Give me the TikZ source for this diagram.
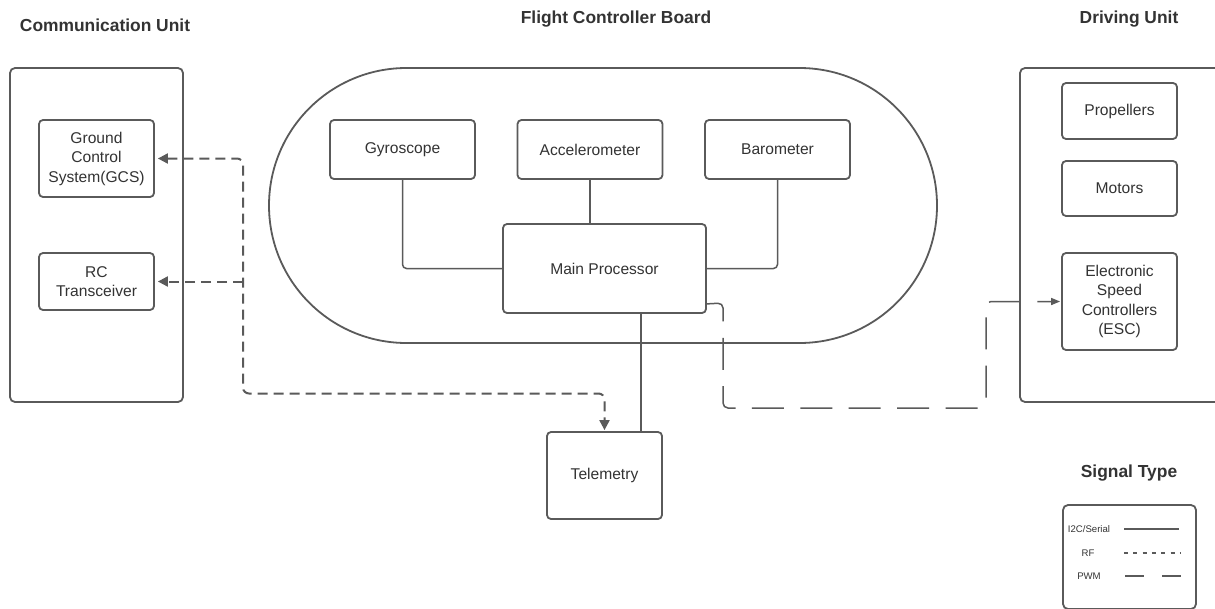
\documentclass[tikz,border=0pt]{standalone}
\usepackage{fontspec}
\setmainfont{Liberation Sans}
\usetikzlibrary{arrows.meta,calc}
\definecolor{ln}{HTML}{5A5A5A}
\definecolor{tx}{HTML}{333333}
\begin{document}
\begin{tikzpicture}[x=1pt,y=-1pt,
  box/.style={draw=ln,line width=1.8pt,rounded corners=4pt,inner sep=0pt,text=tx,align=center,
    font=\fontsize{15.6}{19.5}\selectfont},
  outer/.style={draw=ln,line width=1.8pt,rounded corners=5pt,inner sep=0pt},
  title/.style={text=tx,font=\fontsize{17.4}{20}\selectfont\bfseries,inner sep=0pt},
  conn/.style={draw=ln,line width=1.5pt,rounded corners=4pt},
  rf/.style={draw=ln,line width=2pt,dash pattern=on 10pt off 6pt,rounded corners=6pt},
  pwm/.style={draw=ln,line width=1.5pt,dash pattern=on 32pt off 16.4pt,rounded corners=5pt},
  leg/.style={text=tx,font=\fontsize{9.6}{11}\selectfont,inner sep=0pt}
]
\useasboundingbox[fill=white] (0,0) rectangle (1215,608);

% titles
\node[title] (tcomm) at (105,25) {Communication Unit};
\node[title] (tfcb) at (616,19) {Flight Controller Board};
\node[title] (tdrive) at (1129,19) {Driving Unit};
\node[title] (tsig) at (1129,473) {Signal Type};

% communication unit
\node[outer,minimum width=173pt,minimum height=334pt] (comm) at (96.5,235) {};
\node[box,minimum width=115pt,minimum height=77pt] (gcs) at (96.5,158.5) {Ground\\Control\\System(GCS)};
\node[box,minimum width=115pt,minimum height=57pt] (rc) at (96.5,281.5) {RC\\Transceiver};

% flight controller board
\node[draw=ln,line width=1.8pt,rounded corners=137.5pt,minimum width=668pt,minimum height=275pt,inner sep=0pt] (fcb) at (603,205.5) {};
\node[box,minimum width=145pt,minimum height=59pt] (gyro) at (402.5,149.5) {Gyroscope};
\node[box,minimum width=145pt,minimum height=59pt] (accel) at (590,149.5) {Accelerometer};
\node[box,minimum width=145pt,minimum height=59pt] (baro) at (777.5,149.5) {Barometer};
\node[box,minimum width=203pt,minimum height=89pt] (main) at (604.5,268.5) {Main Processor};
\node[box,minimum width=115pt,minimum height=87pt] (tele) at (604.5,475.5) {Telemetry};

% driving unit
\node[outer,minimum width=220pt,minimum height=334pt] (drive) at (1130,235) {};
\node[box,minimum width=115pt,minimum height=56pt] (prop) at (1119.5,111) {Propellers};
\node[box,minimum width=115pt,minimum height=55pt] (mot) at (1119.5,188.5) {Motors};
\node[box,minimum width=115pt,minimum height=97pt] (esc) at (1119.5,301.5) {Electronic\\Speed\\Controllers\\(ESC)};

% I2C/serial connectors
\draw[conn] (gyro.south) |- (main.west);
\draw[conn] (accel.south) -- (accel.south |- main.north);
\draw[conn] (main.east) -| (baro.south);
\draw[conn] ([xshift=36.5pt]main.south) -- ([xshift=36.5pt]main.south |- tele.north);

% RF connectors
\coordinate (rfA) at (243,158.5);
\coordinate (rfB) at (243,393.5);
\draw[rf,{Triangle[length=10pt,width=10pt]}-{Triangle[length=10pt,width=10pt]},shorten <=3pt,shorten >=1pt]
  (gcs.east) -- (rfA) -- (rfB) -| (tele.north);
\draw[rf,-{Triangle[length=10pt,width=10pt]},shorten >=3pt] (rfA |- rc.east) -- (rc.east);

% PWM connector
\coordinate (pS) at ($(main.south east)+(0,-10)$);
\coordinate (p1) at (723,303);
\coordinate (p2) at (723,408);
\coordinate (p3) at (986,408);
\draw[pwm,-{Triangle[length=9pt,width=7pt]},shorten >=1pt] (pS) -- (p1) -- (p2) -- (p3) |- (esc.west);

% legend
\node[outer,minimum width=133pt,minimum height=104pt] (legend) at (1129.5,557) {};
\node[leg] (l1) at (1089,529) {I2C/Serial};
\node[leg] (l2) at (1088,553) {RF};
\node[leg] (l3) at (1089,576) {PWM};
\coordinate (s1) at (1124,529); \coordinate (e1) at (1179,529);
\coordinate (s2) at (1124,553); \coordinate (e2) at (1181,553);
\coordinate (s3) at (1125,576); \coordinate (e3) at (1182,576);
\draw[draw=ln,line width=1.5pt] (s1) -- (e1);
\draw[draw=ln,line width=1.3pt,dash pattern=on 4pt off 5.3pt] (s2) -- (e2);
\draw[draw=ln,line width=1.5pt,dash pattern=on 19pt off 18pt] (s3) -- (e3);
\end{tikzpicture}
\end{document}
